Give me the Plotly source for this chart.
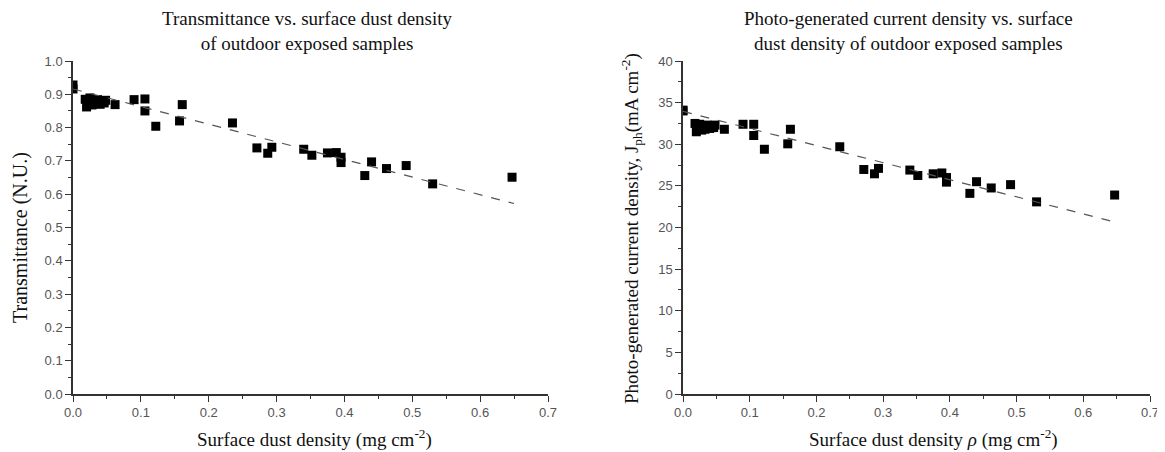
import plotly.graph_objects as go

# ---- data ----
dust = [0.0, 0.0,
        0.018, 0.020, 0.022, 0.025, 0.028, 0.030, 0.033, 0.036, 0.040, 0.043, 0.046, 0.048,
        0.062, 0.090, 0.106, 0.106, 0.122, 0.157, 0.161, 0.235, 0.271, 0.287, 0.293,
        0.340, 0.352, 0.375, 0.388, 0.395, 0.395, 0.430, 0.440, 0.462, 0.491, 0.530, 0.647]

transmittance = [0.928, 0.916,
                 0.885, 0.862, 0.875, 0.889, 0.868, 0.880, 0.872, 0.884, 0.870, 0.878, 0.874, 0.882,
                 0.869, 0.884, 0.886, 0.850, 0.804, 0.820, 0.869, 0.814, 0.739, 0.723, 0.741,
                 0.735, 0.717, 0.724, 0.725, 0.711, 0.695, 0.656, 0.697, 0.677, 0.686, 0.631, 0.651]

jph = [34.1, 34.0,
       32.5, 31.5, 31.9, 32.4, 31.7, 32.2, 31.8, 32.3, 31.9, 32.1, 32.0, 32.3,
       31.8, 32.4, 32.4, 31.05, 29.4, 30.05, 31.8, 29.7, 26.97, 26.45, 27.1,
       26.9, 26.25, 26.45, 26.55, 26.0, 25.45, 24.1, 25.5, 24.75, 25.15, 23.08, 23.9]

fit_x = [0.0, 0.65]
fit_t = [0.916, 0.572]
fit_j = [33.95, 20.6]

x_ticks = [0.0, 0.1, 0.2, 0.3, 0.4, 0.5, 0.6, 0.7]

# page is 1165x452; the html body keeps an 8px margin, so the figure is 1157x444
PAGE_W, PAGE_H, OFF = 1165, 452, 8
W, H = PAGE_W - OFF, PAGE_H - OFF
SERIF = "Liberation Serif, Times New Roman, serif"
SANS = "Liberation Sans, Arial, sans-serif"

fig = go.Figure()

marker = dict(symbol="square", size=9, color="black", line=dict(width=0))
fit_line = dict(color="#555555", width=1.2, dash="dash")

fig.add_trace(go.Scatter(x=dust, y=transmittance, mode="markers", marker=marker,
                         xaxis="x", yaxis="y", showlegend=False))
fig.add_trace(go.Scatter(x=fit_x, y=fit_t, mode="lines", line=fit_line,
                         xaxis="x", yaxis="y", showlegend=False))
fig.add_trace(go.Scatter(x=dust, y=jph, mode="markers", marker=marker,
                         xaxis="x2", yaxis="y2", showlegend=False))
fig.add_trace(go.Scatter(x=fit_x, y=fit_j, mode="lines", line=fit_line,
                         xaxis="x2", yaxis="y2", showlegend=False))

def px_x(p):
    return (p - OFF) / W

def px_y(p):
    return (PAGE_H - p) / H

base = dict(
    showgrid=False, zeroline=False, showline=True, linecolor="#333333", linewidth=1.5,
    ticks="outside", ticklen=6, tickwidth=1.2, tickcolor="#333333", automargin=False,
    tickfont=dict(family=SANS, size=13, color="#555555"),
)

def minor(dt):
    return dict(ticks="outside", ticklen=3, tickwidth=1, tickcolor="#333333", dtick=dt)

y_dom = [px_y(394), px_y(61)]

fig.update_layout(
    width=W, height=H,
    margin=dict(l=0, r=0, t=0, b=0, autoexpand=False),
    paper_bgcolor="white", plot_bgcolor="white",
    xaxis=dict(domain=[px_x(73), px_x(548)], range=[0, 0.7], tickvals=x_ticks,
               tickformat=".1f", anchor="y", minor=minor(0.05), **base),
    yaxis=dict(domain=y_dom, range=[0, 1.0], dtick=0.1, tickformat=".1f", anchor="x",
               minor=minor(0.05), **base),
    xaxis2=dict(domain=[px_x(683), px_x(1150)], range=[0, 0.7], tickvals=x_ticks,
                tickformat=".1f", anchor="y2", minor=minor(0.05), **base),
    yaxis2=dict(domain=y_dom, range=[0, 40], dtick=5, anchor="x2",
                minor=minor(2.5), **base),
)

title_font = dict(family=SERIF, size=19, color="#111111")
annotations = [
    dict(text="Transmittance vs. surface dust density<br>of outdoor exposed samples",
         x=px_x(307), y=px_y(31), xanchor="center", yanchor="middle"),
    dict(text="Photo-generated current density vs. surface<br>dust density of outdoor exposed samples",
         x=px_x(908), y=px_y(31), xanchor="center", yanchor="middle"),
    dict(text="Surface dust density (mg cm<sup>-2</sup>)",
         x=px_x(314), y=px_y(438), xanchor="center", yanchor="middle"),
    dict(text="Surface dust density <i>ρ</i> (mg cm<sup>-2</sup>)",
         x=px_x(933), y=px_y(438), xanchor="center", yanchor="middle"),
    dict(text="Transmittance (N.U.)", textangle=-90,
         x=px_x(20), y=px_y(238), xanchor="center", yanchor="middle",
         font=dict(family=SERIF, size=20, color="#111111")),
    dict(text="Photo-generated current density, J<sub>ph</sub>(mA cm<sup>-2</sup>)", textangle=-90,
         x=px_x(631), y=px_y(229), xanchor="center", yanchor="middle"),
]
for a in annotations:
    a.setdefault("font", title_font)
    a.update(xref="paper", yref="paper", showarrow=False)
fig.update_layout(annotations=annotations)

fig.write_html("out.html")
